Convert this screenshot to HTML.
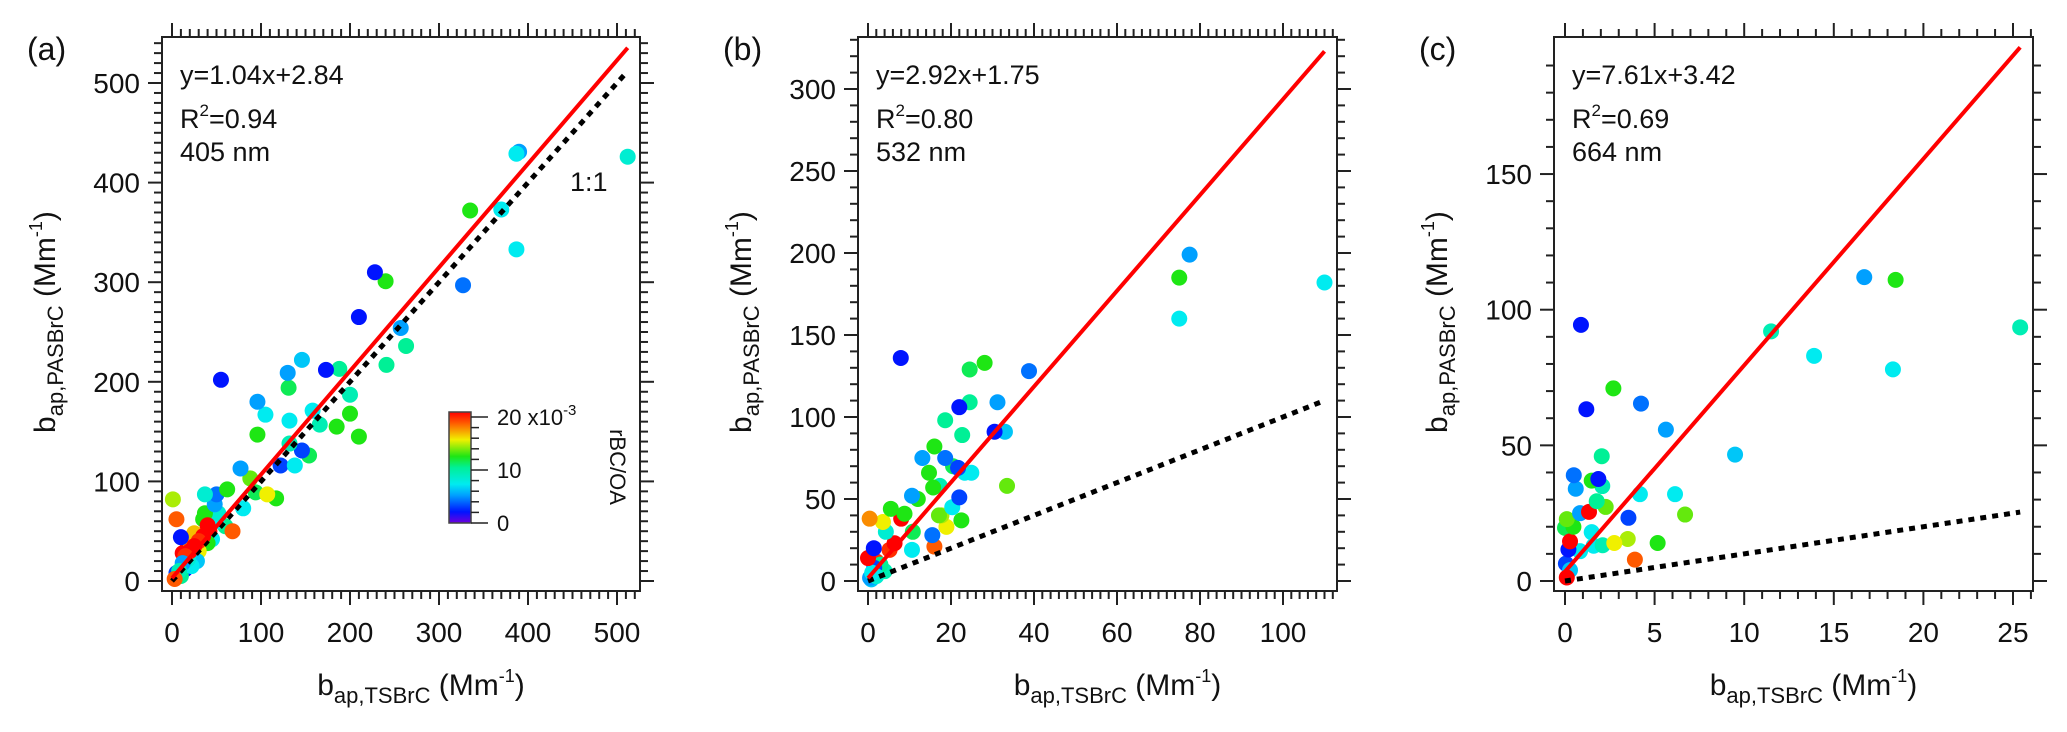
<!DOCTYPE html>
<html><head><meta charset="utf-8"><style>
html,body{margin:0;padding:0;background:#fff;}
svg{display:block;font-family:"Liberation Sans",Arial,sans-serif;}
</style></head><body>
<svg id="fig" width="2067" height="732" viewBox="0 0 2067 732" xmlns="http://www.w3.org/2000/svg"></svg>
<script>
// ---- Panel (a) data: 405 nm ----
const aX = [512,387,390,370,387,335,327,228,240,210,257,263,241,173,188,200,200,185,210,166,158,146,130,131,132,96,105,55,96,132,146,154,138,122,77,88,107,117,62,37,50,48,94,80,1,5,10,40,68,37,52,3,8,12,15,20,25,30,35,18,22,28,10,5,30,40,45,50,25,15,45,60,35,20,12,18,25,42];
const aY = [426,429,431,373,333,372,297,310,301,265,254,236,217,212,213,187,168,155,145,157,171,222,209,194,161,180,167,202,147,138,131,126,116,116,113,103,87,83,92,87,87,77,89,73,82,62,44,56,50,68,68,2,10,18,25,30,35,40,45,22,15,20,5,8,30,38,42,60,48,12,65,55,62,40,28,35,25,50];
const aC = [8,7,5,7,7,12,4,2,12,2,5,10,10,2,10,9,12,12,12,9,7,6,5,11,7,5,7,2,12,9,3,11,7,3,5,13,15,12,12,8,4,5,11,7,14,18,2,20,18,12,8,18,9,5,19,20,20,19,20,8,7,6,10,3,15,12,7,7,16,2,11,10,12,17,20,20,19,20];
// ---- Panel (b) data: 532 nm ----
const bX = [7.9,38.8,24.5,28.1,22,24.5,31.2,18.6,22.7,30.5,33,13.1,16,18.6,21.7,20.5,14.7,24.9,23.3,15.7,17.3,10.6,12,22,33.5,5.5,8.8,20.3,17.1,17.7,0.4,3.6,8,22.5,18.9,10.8,4.3,15.5,16,10.6,1.4,6.4,5.2,0,1,2,0.5,1.5,3,2,4,0.8,75,75,77.5,110];
const bY = [136,128,129,133,106,109,109,98,89,91,91,75,82,75,69,70,66,66,66,57,58,52,50,51,58,44,41,45,40,40,38,36,38,37,33,30,30,28,21,19,20,23,19,14,5,3,2,8,10,12,6,1,185,160,199,182];
const bC = [2,4,11,12,2,10,5,10,10,2,6,5,12,4,3,11,12,7,7,12,9,5,12,3,13,12,12,7,13,14,17,15,20,12,15,11,8,4,18,7,2,20,19,20,7,8,5,3,10,19,9,6,12,7,5,7];
// ---- Panel (c) data: 664 nm ----
const cX = [0.89,1.19,2.7,4.24,5.63,2.05,9.49,11.5,13.9,16.7,18.45,18.3,25.4,0.49,0.6,1.86,1.49,2.08,4.18,6.14,1.77,2.27,1.34,6.7,3.54,0.84,0.1,0.47,1.49,2.75,3.5,5.17,3.9,2.1,0.28,0.19,0.84,1.6,0.1,0.28,0.05,0];
const cY = [94.4,63.3,71,65.4,55.8,46,46.6,92,83,112,111,78,93.5,39,34,37.6,37,35,32,32,29.4,27.3,25.5,24.5,23.3,25,22.8,20,18,14,15.5,14,7.9,13.2,14.6,11.6,11,13,1.3,4,6.4,19.6];
const cC = [2,2,12,4,5,10,6,9,7,5,12,7,9,4,5,2,12,9,7,7,10,13,20,13,3,5,13,12,7,15,14,12,18,9,20,2,7,7,20,6,3,11];
// fits
const fitSlope = [1.04,2.92,7.61];
const fitIntercept = [2.84,1.75,3.42];
const fitXmax = [512,110,25.4];
const r2Labels = ["0.94","0.80","0.69"];
const eqLabels = ["y=1.04x+2.84","y=2.92x+1.75","y=7.61x+3.42"];
const wlLabels = ["405 nm","532 nm","664 nm"];
const panelLetters = ["(a)","(b)","(c)"];
const cbTicks = [0,10,20];

const NS="http://www.w3.org/2000/svg";
const svg=document.getElementById('fig');
function mk(tag,attrs,parent){const e=document.createElementNS(NS,tag);for(const k in attrs)e.setAttribute(k,attrs[k]);(parent||svg).appendChild(e);return e;}

const cmStops=[[0,[110,0,220]],[2,[0,20,255]],[5,[0,160,255]],[7,[0,235,240]],[10,[0,240,150]],[12,[30,230,20]],[15,[240,240,0]],[18,[255,90,0]],[20,[255,0,0]]];
function cmap(v){v=Math.max(0,Math.min(20,v));for(let i=1;i<cmStops.length;i++){if(v<=cmStops[i][0]){const [v0,c0]=cmStops[i-1],[v1,c1]=cmStops[i];const t=(v-v0)/(v1-v0);return 'rgb('+c0.map((c,j)=>Math.round(c+(c1[j]-c)*t)).join(',')+')';}}return 'rgb(255,0,0)';}

const panels=[
 {L:162,R:640,T:37,B:591,x0:172,xs:0.89,y0:581,ys:0.996,xMaj:100,xMin:10,xMax:520,yMaj:100,yMin:10,yMax:545,X:aX,Y:aY,C:aC},
 {L:858,R:1337,T:37,B:591,x0:868,xs:4.15,y0:581,ys:1.64,xMaj:20,xMin:2,xMax:112,yMaj:50,yMin:10,yMax:330,X:bX,Y:bY,C:bC},
 {L:1554,R:2033,T:37,B:591,x0:1565,xs:17.92,y0:581,ys:2.713,xMaj:5,xMin:1,xMax:26,yMaj:50,yMin:10,yMax:195,X:cX,Y:cY,C:cC}
];

panels.forEach((p,i)=>{
 const g=mk('g',{});
 
 
 const sx=v=>p.x0+v*p.xs, sy=v=>p.y0-v*p.ys;
 const clipId='clip'+i;
 const cp=mk('clipPath',{id:clipId},g);mk('rect',{x:p.L,y:p.T,width:p.R-p.L,height:p.B-p.T},cp);
 const pg=mk('g',{'clip-path':'url(#'+clipId+')'},g);
 
 
 for(let k=p.X.length-1;k>=0;k--){
  const c=mk('circle',{cx:sx(p.X[k]),cy:sy(p.Y[k]),r:8,fill:cmap(p.C[k])},pg);
  
  
 }
 const one=mk('line',{x1:sx(0),y1:sy(0),x2:sx(fitXmax[i]),y2:sy(fitXmax[i]),stroke:'#000','stroke-width':5,'stroke-dasharray':'6,6'},g);
 
 
 const fit=mk('line',{x1:sx(0),y1:sy(fitIntercept[i]),x2:sx(fitXmax[i]),y2:sy(fitSlope[i]*fitXmax[i]+fitIntercept[i]),stroke:'#ff0000','stroke-width':4},g);
 
 
 const fr=mk('rect',{x:p.L,y:p.T,width:p.R-p.L,height:p.B-p.T,fill:'none',stroke:'#222','stroke-width':2},g);
 
 
 for(let v=0;v<=p.xMax+1e-9;v+=p.xMin){
  const vv=Math.round(v*1000)/1000;const maj=Math.abs(vv/p.xMaj-Math.round(vv/p.xMaj))<1e-6;const len=maj?14:8;const x=sx(vv);
  mk('line',{x1:x,y1:p.B,x2:x,y2:p.B+len,stroke:'#222','stroke-width':2},g);
  mk('line',{x1:x,y1:p.T,x2:x,y2:p.T-len,stroke:'#222','stroke-width':2},g);
  if(maj){const t=mk('text',{x:x,y:642,'font-size':28,'text-anchor':'middle',fill:'#111'},g);t.textContent=vv;
   
   }
 }
 for(let v=0;v<=p.yMax+1e-9;v+=p.yMin){
  const vv=Math.round(v*1000)/1000;const maj=Math.abs(vv/p.yMaj-Math.round(vv/p.yMaj))<1e-6;const len=maj?14:8;const y=sy(vv);
  mk('line',{x1:p.L,y1:y,x2:p.L-len,y2:y,stroke:'#222','stroke-width':2},g);
  mk('line',{x1:p.R,y1:y,x2:p.R+len,y2:y,stroke:'#222','stroke-width':2},g);
  if(maj){const t=mk('text',{x:p.L-22,y:y+10,'font-size':28,'text-anchor':'end',fill:'#111'},g);t.textContent=vv;
   
   }
 }
 const ax=p.L+18;
 const e1=mk('text',{x:ax,y:84,'font-size':27,fill:'#111'},g);e1.textContent=eqLabels[i];
 
 
 const e2=mk('text',{x:ax,y:128,'font-size':27,fill:'#111'},g);
 e2.innerHTML='R<tspan dy="-12" font-size="17">2</tspan><tspan dy="12">='+r2Labels[i]+'</tspan>';
 
 
 const e3=mk('text',{x:ax,y:161,'font-size':27,fill:'#111'},g);e3.textContent=wlLabels[i];
 
 
 const pl=mk('text',{x:p.L-135,y:60,'font-size':32,fill:'#111'},g);pl.textContent=panelLetters[i];
 
 
 const xt=mk('text',{x:(p.L+p.R)/2+20,y:695,'font-size':30,'text-anchor':'middle',fill:'#111'},g);
 xt.innerHTML='b<tspan dy="8" font-size="22">ap,TSBrC</tspan><tspan dy="-8"> (Mm</tspan><tspan dy="-13" font-size="18">-1</tspan><tspan dy="13">)</tspan>';
 
 
 const yx=p.L-107, yc=(p.T+p.B)/2+8;
 const yt=mk('text',{x:yx,y:yc,'font-size':30,'text-anchor':'middle',fill:'#111',transform:'rotate(-90 '+yx+' '+yc+')'},g);
 yt.innerHTML='b<tspan dy="8" font-size="22">ap,PASBrC</tspan><tspan dy="-8"> (Mm</tspan><tspan dy="-13" font-size="18">-1</tspan><tspan dy="13">)</tspan>';
 
 
});

const oneLbl=mk('text',{x:570,y:191,'font-size':27,fill:'#111'});oneLbl.textContent='1:1';



const cb=mk('g',{});


const cbL=449,cbR=471,cbT=412,cbB=523;
const defs=mk('defs',{},cb);
const lg=mk('linearGradient',{id:'cbg',x1:0,y1:1,x2:0,y2:0},defs);
cmStops.forEach(s=>mk('stop',{offset:s[0]/20,'stop-color':cmap(s[0])},lg));
mk('rect',{x:cbL,y:cbT,width:cbR-cbL,height:cbB-cbT,fill:'url(#cbg)',stroke:'#444','stroke-width':1.5},cb);
for(let v=0;v<=20;v+=2){const y=cbB-(v/20)*(cbB-cbT-5);const maj=v%10===0;mk('line',{x1:cbR,y1:y,x2:cbR+(maj?17:8),y2:y,stroke:'#222','stroke-width':1.5},cb);}
cbTicks.forEach(v=>{const y=cbB-(v/20)*(cbB-cbT-5);const t=mk('text',{x:497,y:y+8,'font-size':22,fill:'#111'},cb);
 if(v===20){t.innerHTML='20 x10<tspan dy="-10" font-size="15">-3</tspan>';}else t.textContent=v;
 
 });
const cbt=mk('text',{x:610,y:467,'font-size':22,'text-anchor':'middle',fill:'#111',transform:'rotate(90 610 467)'},cb);cbt.textContent='rBC/OA';


</script>
</body></html>
